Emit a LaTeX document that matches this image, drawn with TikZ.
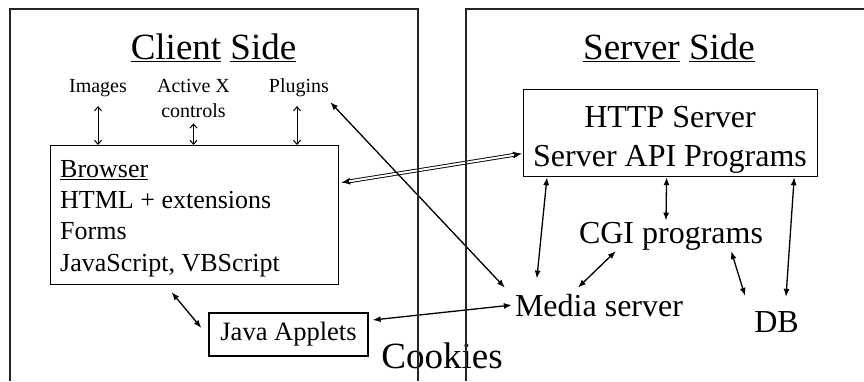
\documentclass[tikz,border=0pt]{standalone}
\usepackage{fontspec}
\setmainfont{Liberation Serif}
\usetikzlibrary{arrows.meta,calc}
\begin{document}
\begin{tikzpicture}[x=1pt,y=-1pt,
  txt/.style={inner sep=0pt, anchor=base},
  boxed/.style={draw, line width=1.2pt, inner sep=0pt},
  arr/.style={line width=1.3pt, {Latex[length=8pt,width=6pt]}-{Latex[length=8pt,width=6pt]}},
  barb/.style={line width=1pt, {Straight Barb[length=4pt,width=7pt]}-{Straight Barb[length=4pt,width=7pt]}},
  panel/.style={line width=1.2pt, draw=black!85}]
\useasboundingbox (0,0) rectangle (864,381);
% titles
\node[txt, font=\fontsize{37}{40}\selectfont] (ctitle) at (213.5,59) {\underline{Client} \underline{Side}};
\node[txt, font=\fontsize{37}{40}\selectfont] (stitle) at (669,59) {\underline{Server} \underline{Side}};
% small labels
\node[txt, font=\fontsize{20}{24}\selectfont] (images) at (98,92) {Images};
\node[txt, font=\fontsize{20}{25}\selectfont, align=center] (activex) at (193.5,117) {Active X\\controls};
\node[txt, font=\fontsize{20}{24}\selectfont] (plugins) at (299,92) {Plugins};
% browser
\node[boxed, minimum width=288pt, minimum height=139pt, anchor=north west] (browser) at (50,145) {};
\node[inner sep=0pt, anchor=base west, align=left, font=\fontsize{26}{31.3}\selectfont] (browsertext) at (60,271)
  {\underline{Browser}\\HTML + extensions\\Forms\\JavaScript, VBScript};
% http
\node[boxed, minimum width=294pt, minimum height=87pt, anchor=north west] (http) at (523,89) {};
\node[txt, align=center, font=\fontsize{32}{39}\selectfont] (httptext) at (670,166) {HTTP Server\\Server API Programs};
% others
\node[boxed, minimum width=159pt, minimum height=43pt, font=\fontsize{26.5}{30}\selectfont] (java) at (288.5,334.5) {Java Applets};
\node[txt, font=\fontsize{32}{36}\selectfont] (cgi) at (671,243) {CGI programs};
\node[txt, font=\fontsize{32}{36}\selectfont] (media) at (599,316) {Media server};
\node[txt, font=\fontsize{32}{36}\selectfont] (db) at (776.5,332) {DB};
\node[txt, font=\fontsize{37}{40}\selectfont] (cookies) at (442,368) {Cookies};
% client-side vertical arrows
\draw[barb] ([yshift=-9.6pt]images.south) -- (images.south |- browser.north);
\draw[barb] ([yshift=-6pt]activex.south) -- (activex.south |- browser.north);
\draw[barb] ([xshift=-2pt,yshift=-9.6pt]plugins.south) -- ([xshift=-2pt]plugins.south |- browser.north);
% double arrow browser <-> http
\draw[line width=1pt, {Latex[length=9pt,width=7pt]}-{Latex[length=9pt,width=7pt]}]
  ([xshift=2pt,yshift=32.5pt]browser.east) -- ([xshift=-1pt,yshift=-20.5pt]http.west);
\draw[line width=0.9pt, double, double distance=2pt, shorten <=8pt, shorten >=8pt]
  ([xshift=2pt,yshift=32.5pt]browser.east) -- ([xshift=-1pt,yshift=-20.5pt]http.west);
% other arrows
\draw[arr] ([xshift=1pt,yshift=-5.6pt]plugins.south east) -- ([xshift=-10pt,yshift=6pt]media.north west);
\draw[arr] ([xshift=-3pt]media.west) -- ([xshift=4pt,yshift=14.5pt]java.east);
\draw[arr] ([xshift=-23pt,yshift=-7pt]browser.south) -- ([xshift=-7pt,yshift=6.5pt]java.west);
\draw[arr] ([xshift=24pt]http.south west) -- ([xshift=22pt,yshift=15pt]media.north west);
\draw[arr] ([xshift=-4pt]http.south) -- ([xshift=-5pt,yshift=1pt]cgi.north);
\draw[arr] ([xshift=-24pt]http.south east) -- ([xshift=9.5pt,yshift=14pt]db.north);
\draw[arr] ([xshift=-21pt,yshift=6pt]media.north) -- ([xshift=37pt,yshift=-1pt]cgi.south west);
\draw[arr] ([xshift=-32pt,yshift=-1pt]cgi.south east) -- ([xshift=-9pt,yshift=15pt]db.north west);
% panels
\draw[panel] (10,381) -- (10,9) -- (418,9) -- (418,381);
\draw[panel] (466,381) -- (466,9) -- (864,9);
\end{tikzpicture}
\end{document}
